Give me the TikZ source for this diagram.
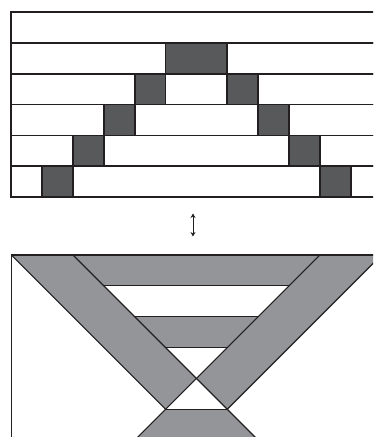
\documentclass[tikz,border=0pt]{standalone}
\usetikzlibrary{arrows.meta}
\definecolor{inkline}{HTML}{231F20}
\definecolor{darkcell}{HTML}{58595B}
\definecolor{lightband}{HTML}{939598}
\tikzset{
  rowbox/.style={draw=inkline, line width=1.7pt, fill=white},
  cellbox/.style={draw=inkline, line width=1.7pt, fill=darkcell},
  bandfill/.style={fill=lightband, draw=none},
  edgeline/.style={draw=inkline, line width=1.1pt},
  swaparrow/.style={draw=inkline, line width=1pt, {Stealth[length=4.5pt,width=5pt]}-{Stealth[length=4.5pt,width=5pt]}}
}
\begin{document}
\begin{tikzpicture}[x=1pt,y=-1pt]
\useasboundingbox (0,0) rectangle (373,437);
\clip (0,0) rectangle (373,437);
\pgfmathsetmacro\ux{30.85}
\pgfmathsetmacro\xO{11.3}
\pgfmathsetmacro\yO{12}
\pgfmathsetmacro\yT{255}
% ---------- top: rows ----------
\foreach \r in {0,...,5}{
  \draw[rowbox] (\xO,{\yO+\r*\ux}) rectangle ({\xO+12*\ux},{\yO+(\r+1)*\ux});
}
\draw[cellbox] ({\xO+5*\ux},{\yO+1*\ux}) rectangle ({\xO+7*\ux},{\yO+2*\ux});
\foreach \r in {2,...,5}{
  \draw[cellbox] ({\xO+(6-\r)*\ux},{\yO+\r*\ux}) rectangle ({\xO+(7-\r)*\ux},{\yO+(\r+1)*\ux});
  \draw[cellbox] ({\xO+(5+\r)*\ux},{\yO+\r*\ux}) rectangle ({\xO+(6+\r)*\ux},{\yO+(\r+1)*\ux});
}
% ---------- arrow ----------
\coordinate (arrtop) at (193,213.5);
\coordinate (arrbot) at (193,236.5);
\draw[swaparrow] (arrtop) -- (arrbot);
% ---------- bottom: bands ----------
\fill[bandfill] (\xO,\yT) -- ({\xO+2*\ux},\yT) -- ({\xO+2*\ux+220},{\yT+220}) -- ({\xO+220},{\yT+220}) -- cycle;
\fill[bandfill] ({\xO+12*\ux},\yT) -- ({\xO+10*\ux},\yT) -- ({\xO+10*\ux-220},{\yT+220}) -- ({\xO+12*\ux-220},{\yT+220}) -- cycle;
\fill[bandfill] ({\xO+2*\ux},\yT) -- ({\xO+10*\ux},\yT) -- ({\xO+9*\ux},{\yT+\ux}) -- ({\xO+3*\ux},{\yT+\ux}) -- cycle;
\fill[bandfill] ({\xO+4*\ux},{\yT+2*\ux}) -- ({\xO+8*\ux},{\yT+2*\ux}) -- ({\xO+7*\ux},{\yT+3*\ux}) -- ({\xO+5*\ux},{\yT+3*\ux}) -- cycle;
\fill[bandfill] ({\xO+5*\ux},{\yT+5*\ux}) -- ({\xO+7*\ux},{\yT+5*\ux}) -- ({\xO+7*\ux+60},{\yT+5*\ux+60}) -- ({\xO+5*\ux-60},{\yT+5*\ux+60}) -- cycle;
% white triangle where the two bands overlap, below the crossing
\fill[white] ({\xO+6*\ux},{\yT+4*\ux}) -- ({\xO+7*\ux},{\yT+5*\ux}) -- ({\xO+5*\ux},{\yT+5*\ux}) -- cycle;
% outline
\draw[edgeline] (\xO,450) -- (\xO,\yT) -- ({\xO+12*\ux},\yT) -- ({\xO+12*\ux},450);
% diagonal edges (outer edges end where they meet the lowest horizontal)
\draw[edgeline] (\xO,\yT) -- ({\xO+5*\ux},{\yT+5*\ux});
\draw[edgeline] ({\xO+2*\ux},\yT) -- ({\xO+2*\ux+220},{\yT+220});
\draw[edgeline] ({\xO+12*\ux},\yT) -- ({\xO+7*\ux},{\yT+5*\ux});
\draw[edgeline] ({\xO+10*\ux},\yT) -- ({\xO+10*\ux-220},{\yT+220});
% horizontal edges
\draw[edgeline] ({\xO+3*\ux},{\yT+\ux}) -- ({\xO+9*\ux},{\yT+\ux});
\draw[edgeline] ({\xO+4*\ux},{\yT+2*\ux}) -- ({\xO+8*\ux},{\yT+2*\ux});
\draw[edgeline] ({\xO+5*\ux},{\yT+3*\ux}) -- ({\xO+7*\ux},{\yT+3*\ux});
\draw[edgeline] ({\xO+5*\ux},{\yT+5*\ux}) -- ({\xO+7*\ux},{\yT+5*\ux});
\end{tikzpicture}
\end{document}
